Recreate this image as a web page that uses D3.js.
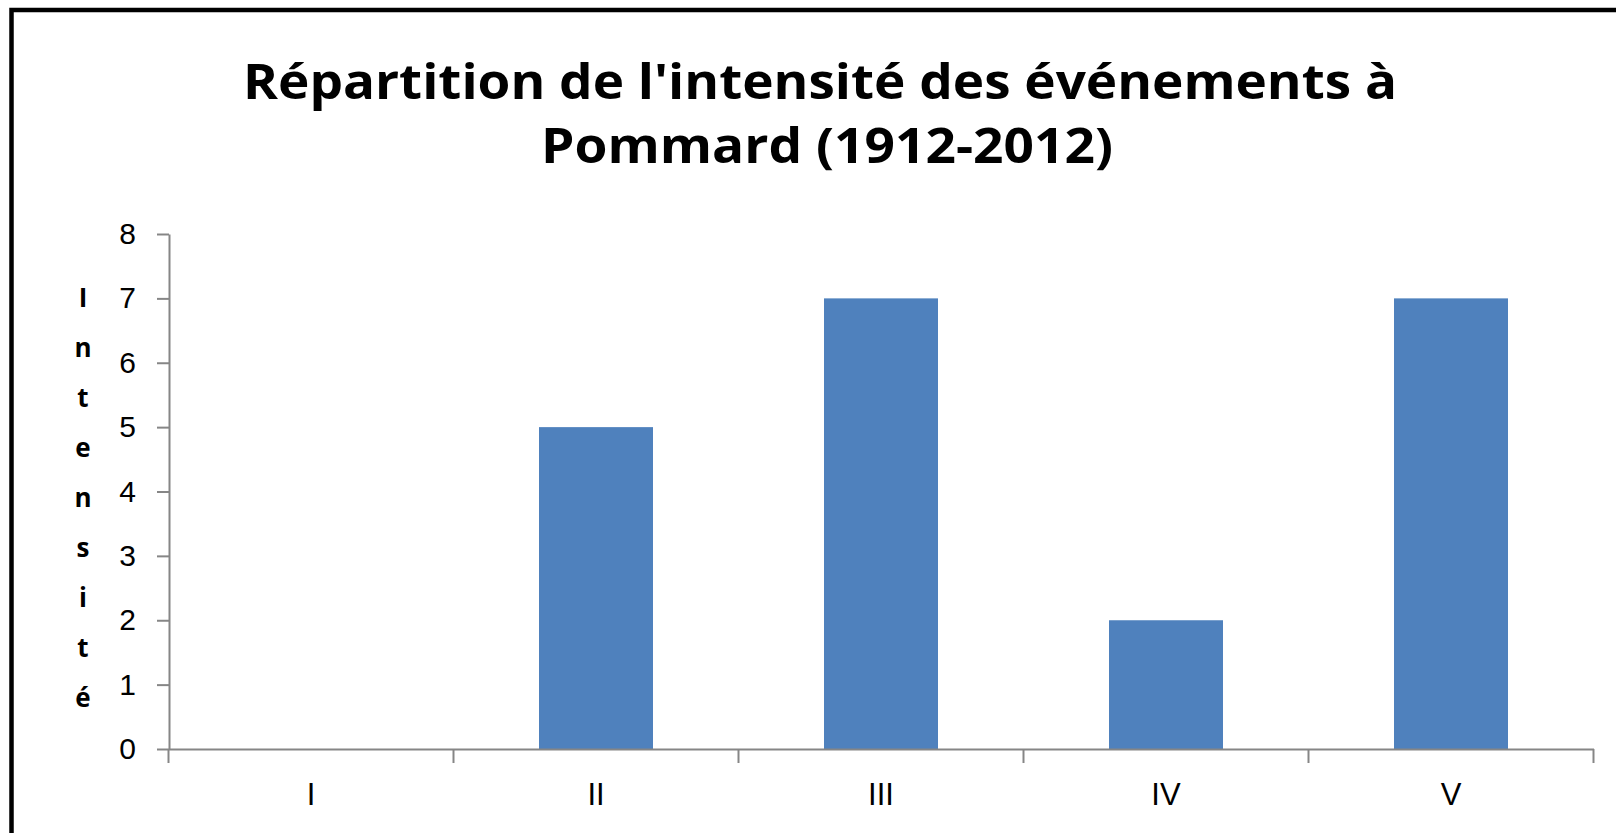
<!DOCTYPE html>
<html>
<head>
<meta charset="utf-8">
<script src="https://cdn.jsdelivr.net/npm/d3@7"></script>
<style>
  html, body { margin: 0; padding: 0; background: #fff; overflow: hidden; }
</style>
</head>
<body>
<div id="chart"></div>
<script>
// data
var categories = ['I', 'II', 'III', 'IV', 'V'];
var values = [0, 5, 7, 2, 7];
var yTicks = [0, 1, 2, 3, 4, 5, 6, 7, 8];
var titleLines = ["Répartition de l'intensité des événements à", 'Pommard (1912-2012)'];
var yLabel = 'Intensité';

var width = 1616;
var height = 833;
var barColor = '#4f81bd';
var axisColor = '#868686';

var svg = d3.select('#chart').append('svg')
  .attr('width', width).attr('height', height)
  .style('display', 'block');

// chart border (only left and top edges fall inside the picture)
svg.append('rect')
  .attr('x', 11.5).attr('y', 10)
  .attr('width', width + 100).attr('height', height + 100)
  .attr('fill', 'none')
  .attr('stroke', '#000')
  .attr('stroke-width', 4.5);

// title
var titlePos = [{x: 820, y: 99, len: 1154}, {x: 827, y: 163, len: 572}];
svg.append('g').selectAll('text')
  .data(titleLines)
  .enter().append('text')
  .attr('x', (d, i) => titlePos[i].x)
  .attr('y', (d, i) => titlePos[i].y)
  .attr('text-anchor', 'middle')
  .attr('font-family', '"Open Sans", sans-serif')
  .attr('font-weight', 700)
  .attr('font-size', 49)
  .attr('textLength', (d, i) => titlePos[i].len)
  .attr('lengthAdjust', 'spacingAndGlyphs')
  .attr('fill', '#000')
  .text(d => d);

// scales
var x = d3.scaleBand()
  .domain(categories)
  .range([168.5, 1593.5])
  .padding(0);

var y = d3.scaleLinear()
  .domain([0, 8])
  .range([749, 234]);

// bars (gap width 150%)
var barW = x.bandwidth() * 0.4;
svg.append('g').selectAll('rect')
  .data(values)
  .enter().append('rect')
  .attr('x', (d, i) => x(categories[i]) + (x.bandwidth() - barW) / 2)
  .attr('y', d => y(d))
  .attr('width', barW)
  .attr('height', d => y(0) - y(d))
  .attr('fill', barColor);

// y axis
var yAxis = svg.append('g')
  .attr('transform', 'translate(169,0)')
  .call(d3.axisLeft(y).tickValues(yTicks).tickSize(12).tickPadding(21).tickSizeOuter(0));
yAxis.select('.domain').attr('stroke', axisColor).attr('stroke-width', 2);
yAxis.selectAll('.tick line').attr('stroke', axisColor).attr('stroke-width', 2);
yAxis.selectAll('.tick text')
  .attr('font-family', '"Liberation Sans", Arial, sans-serif')
  .attr('font-size', 30)
  .attr('fill', '#000');

// x axis: labels at band centres, ticks at band edges
var xAxis = svg.append('g')
  .attr('transform', 'translate(0,' + y(0) + ')')
  .call(d3.axisBottom(x).tickSize(0).tickPadding(34).tickSizeOuter(0));
xAxis.select('.domain').attr('stroke', axisColor).attr('stroke-width', 2);
xAxis.selectAll('.tick text')
  .attr('font-family', '"Liberation Sans", Arial, sans-serif')
  .attr('font-size', 31)
  .attr('fill', '#000');

var edges = categories.map(c => x(c)).concat([x.range()[1]]);
xAxis.append('g').selectAll('line')
  .data(edges)
  .enter().append('line')
  .attr('x1', d => d).attr('x2', d => d)
  .attr('y1', 0).attr('y2', 14)
  .attr('stroke', axisColor)
  .attr('stroke-width', 2);

// stacked y axis title
svg.append('g').selectAll('text')
  .data(yLabel.split(''))
  .enter().append('text')
  .attr('x', 83)
  .attr('y', (d, i) => 307 + i * 50)
  .attr('text-anchor', 'middle')
  .attr('font-family', '"Open Sans", sans-serif')
  .attr('font-weight', 700)
  .attr('font-size', 26)
  .attr('fill', '#000')
  .text(d => d);
</script>
</body>
</html>
